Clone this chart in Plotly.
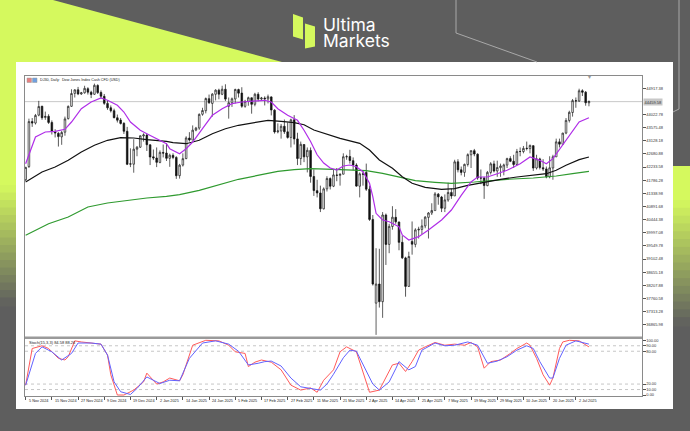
import plotly.graph_objects as go

W, H = 690, 431

# ---------------- data ----------------
tick_index = [0, 8, 16, 24, 32, 40, 48, 56, 64, 72, 80, 88, 96, 104, 112, 120, 128, 136, 144, 152, 160, 168]
tick_labels = ["5 Nov 2024", "15 Nov 2024", "27 Nov 2024", "9 Dec 2024", "19 Dec 2024", "2 Jan 2025",
               "14 Jan 2025", "24 Jan 2025", "5 Feb 2025", "17 Feb 2025", "27 Feb 2025", "11 Mar 2025",
               "21 Mar 2025", "2 Apr 2025", "14 Apr 2025", "25 Apr 2025", "7 May 2025", "19 May 2025",
               "29 May 2025", "10 Jun 2025", "20 Jun 2025", "2 Jul 2025"]

price_ticks = [36865.98, 37313.28, 37760.58, 38207.88, 38655.18, 39102.48, 39549.78, 39997.08,
               40444.38, 40891.68, 41338.98, 41786.28, 42233.58, 42680.88, 43128.18, 43575.48,
               44022.78, 44917.38]
current_price = 44459.58

opens = [41800, 42250, 43780, 43730, 44000, 44300, 43920, 43960, 43750, 43440, 43380, 43260, 43420, 43880,
         44300, 44740, 44860, 44720, 44760, 44900, 44780, 44710, 45010, 44770, 44640, 44400, 44250, 44150,
         43910, 43830, 43720, 43450, 42330, 42330, 42840, 42910, 43290, 43320, 42990, 42580, 42540, 42390,
         42730, 42710, 42530, 42630, 42560, 41940, 42300, 42520, 43220, 43150, 43490, 43560, 44030, 44150,
         44560, 44400, 44710, 44850, 44710, 44880, 44300, 44420, 44550, 44870, 44750, 44300, 44470, 44590,
         44370, 44710, 44550, 44580, 44550, 44620, 44170, 43430, 43460, 43620, 43430, 43240, 43840, 43190,
         42520, 43000, 42580, 42800, 41910, 41430, 41350, 40810, 41490, 41840, 41580, 41960, 41950, 41990,
         42580, 42590, 42450, 42300, 41580, 42000, 42050, 41480, 40450, 37600, 38250, 37650, 40600, 39600,
         40210, 40520, 40360, 39670, 39140, 38170, 39700, 39600, 40090, 40110, 40230, 40520, 40670, 40750,
         41310, 41210, 40830, 41110, 41370, 41250, 42410, 42140, 42050, 42320, 42650, 42790, 42670, 41860,
         41860, 41600, 42050, 42340, 42100, 42210, 42100, 42300, 42520, 42430, 42320, 42760, 42760, 42870,
         42860, 42960, 42200, 42510, 42210, 42170, 41900, 42200, 42580, 43090, 43010, 43390, 43820, 44090,
         44490, 44480, 44830, 44780, 44420]
highs = [42240, 43880, 43900, 44040, 44486, 44320, 44120, 44030, 43820, 43520, 43420, 43460, 43950, 44330,
         44880, 44880, 44960, 44790, 45000, 44950, 44830, 45073, 45050, 44840, 44720, 44500, 44330, 44220,
         44020, 43900, 43760, 43600, 42870, 43180, 42950, 43310, 43380, 43360, 43000, 42830, 42900, 42800,
         43000, 43050, 42690, 42700, 42600, 42340, 42700, 43280, 43420, 43650, 43600, 44060, 44250, 44600,
         44700, 44750, 44880, 44900, 45000, 45050, 44600, 44600, 44900, 44900, 44950, 44520, 44630, 44600,
         44760, 44780, 44620, 44640, 44700, 44640, 44200, 43720, 43700, 43850, 43750, 43880, 44000, 43400,
         43100, 43000, 42900, 42900, 42150, 41800, 41600, 41540, 41920, 41880, 42150, 42200, 42020, 42700,
         42650, 42820, 42560, 42360, 42050, 42100, 42350, 41600, 40600, 39470, 39450, 40700, 40650, 40300,
         40900, 40800, 40380, 39900, 39180, 39350, 40380, 40150, 40200, 40450, 40560, 40700, 41000, 41380,
         41350, 41250, 41300, 41700, 41500, 42480, 42500, 42250, 42350, 42700, 42800, 42850, 42700, 42150,
         41900, 42100, 42400, 42450, 42450, 42350, 42350, 42550, 42600, 42650, 42850, 42900, 42950, 43100,
         43000, 42970, 42650, 42550, 42500, 42250, 42600, 42650, 43200, 43200, 43400, 43900, 44150, 44550,
         44600, 44900, 44880, 44820, 44500]
lows = [41760, 42200, 43600, 43680, 43960, 43840, 43840, 43700, 43340, 43240, 42930, 42990, 43300, 43850,
        44280, 44600, 44680, 44690, 44730, 44700, 44580, 44690, 44720, 44560, 44350, 44180, 44090, 43890,
        43750, 43680, 43360, 42300, 42230, 42040, 42600, 42880, 43100, 42780, 42300, 42470, 42230, 42360,
        42560, 42440, 42240, 42500, 41830, 41840, 42250, 42500, 43100, 43150, 43450, 43500, 43980, 44060,
        44380, 43950, 44500, 44540, 44680, 44480, 43880, 44280, 44400, 44600, 44250, 44250, 44320, 44050,
        44300, 44470, 44500, 44330, 44400, 43990, 43370, 43380, 43200, 43360, 43200, 42900, 43000, 42300,
        42300, 42400, 42050, 41700, 41250, 41200, 40700, 40790, 41400, 41470, 41550, 41750, 41600, 41980,
        42480, 42350, 42120, 41560, 41200, 41600, 41420, 40400, 38200, 36520, 37450, 37100, 38900, 39300,
        40100, 40300, 39400, 39100, 37820, 38150, 39250, 39500, 39800, 39950, 40150, 39800, 40600, 40750,
        40950, 40700, 40700, 41050, 41150, 41250, 42050, 41950, 41900, 42250, 42200, 42600, 41800, 41650,
        41150, 41580, 41980, 42050, 41900, 41900, 41950, 42200, 42400, 42200, 42300, 42600, 42700, 42800,
        42700, 42100, 42150, 42150, 42100, 41850, 41850, 41800, 42580, 42900, 43000, 43350, 43750, 43950,
        44250, 44450, 44650, 44320, 44300]
closes = [42221, 43780, 43730, 43989, 44293, 43911, 43958, 43751, 43445, 43390, 43269, 43408, 43870, 44297,
          44736, 44860, 44722, 44760, 44911, 44782, 44705, 45014, 44766, 44643, 44401, 44248, 44149, 43914,
          43828, 43717, 43450, 42327, 42342, 42840, 42907, 43297, 43326, 42992, 42574, 42544, 42392, 42732,
          42707, 42528, 42635, 42560, 41938, 42297, 42518, 43222, 43153, 43488, 43560, 44025, 44157, 44565,
          44424, 44714, 44850, 44714, 44882, 44545, 44422, 44556, 44873, 44747, 44303, 44470, 44593, 44368,
          44711, 44546, 44580, 44556, 44627, 44176, 43428, 43461, 43621, 43433, 43240, 43841, 43191, 42521,
          43006, 42579, 42802, 41912, 41433, 41350, 40813, 41488, 41842, 41581, 41965, 41953, 41985, 42583,
          42588, 42455, 42300, 41584, 42002, 41990, 41480, 40450, 38250, 38250, 37650, 40600, 39600, 40213,
          40525, 40369, 39669, 39142, 38170, 39187, 39607, 40093, 40114, 40228, 40528, 40669, 40753, 41317,
          41219, 40829, 41114, 41368, 41249, 42410, 42140, 42051, 42323, 42655, 42792, 42677, 41860, 41859,
          41603, 42050, 42343, 42098, 42216, 42270, 42305, 42520, 42428, 42319, 42763, 42762, 42867, 42866,
          42968, 42198, 42515, 42215, 42172, 41900, 42207, 42582, 43089, 43012, 43387, 43819, 44095, 44495,
          44485, 44829, 44780, 44420, 44460]
bars = list(range(len(closes)))

ma_fast_idx = [0, 3, 6, 9, 12, 14, 17, 20, 23, 25, 28, 30, 32, 35, 37, 41, 43, 44, 47, 49, 51, 54, 57, 60, 63,
               66, 70, 73, 75, 77, 80, 83, 85, 87, 89, 91, 93, 95, 97, 99, 101, 103, 105, 106, 107, 109, 111,
               114, 115, 117, 120, 123, 127, 130, 133, 136, 138, 141, 144, 147, 151, 154, 157, 159, 161, 164,
               167, 169, 172]
ma_fast_val = [42347, 43255, 43426, 43449, 43518, 43766, 44219, 44447, 44583, 44505, 44335, 44106, 43766,
               43484, 43368, 43143, 43027, 42857, 42687, 42857, 43085, 43538, 43994, 44219, 44389, 44447,
               44471, 44505, 44447, 44219, 43994, 43824, 43484, 43100, 42650, 42370, 42200, 42132, 42268,
               42302, 42245, 42074, 41679, 41223, 40658, 40430, 40372, 40202, 39920, 39749, 39862, 40090,
               40430, 40770, 41271, 41724, 41894, 41894, 42006, 42122, 42347, 42575, 42462, 42347, 42517,
               42973, 43426, 43766, 43912]
ma_mid_idx = [0, 5, 9, 13, 17, 21, 25, 29, 33, 37, 43, 45, 49, 53, 57, 61, 65, 70, 74, 78, 82, 85, 88, 96,
              102, 105, 108, 112, 115, 118, 122, 127, 131, 135, 140, 145, 150, 155, 159, 162, 165, 169, 172]
ma_mid_val = [41724, 42064, 42234, 42462, 42745, 42973, 43143, 43232, 43221, 43164, 43109, 43061, 43027,
              43143, 43368, 43538, 43654, 43742, 43824, 43790, 43742, 43674, 43494, 43211, 43041, 42813,
              42473, 42190, 41904, 41679, 41543, 41475, 41496, 41611, 41724, 41816, 41894, 41952, 42006,
              42122, 42292, 42483, 42575]
ma_slow_idx = [0, 7, 13, 19, 25, 31, 37, 43, 47, 53, 59, 65, 72, 77, 82, 87, 94, 104, 109, 114, 119, 125,
               130, 137, 147, 155, 162, 167, 172]
ma_slow_val = [39909, 40304, 40532, 40873, 41009, 41101, 41179, 41237, 41291, 41441, 41632, 41816, 41972,
               42088, 42142, 42176, 42156, 42108, 42020, 41884, 41768, 41713, 41679, 41724, 41816, 41860,
               41928, 42006, 42088]

stoch_k_idx = [0, 2, 5, 7, 10, 12, 13, 15, 17, 20, 23, 25, 26, 28, 30, 33, 36, 37, 40, 42, 44, 47, 48, 51,
               55, 59, 62, 64, 67, 68, 70, 72, 75, 78, 81, 84, 87, 89, 91, 94, 96, 98, 101, 103, 105, 108,
               110, 112, 114, 116, 118, 120, 122, 125, 128, 131, 134, 136, 138, 140, 142, 145, 148, 150,
               153, 154, 156, 158, 160, 161, 163, 164, 166, 169, 172]
stoch_k_val = [18, 85, 90, 85, 67, 64, 70, 99, 97, 95, 93, 73, 37, 0, 0, 9, 24, 40, 20, 24, 31, 26, 37, 91,
               100, 99, 91, 79, 76, 52, 60, 64, 60, 46, 18, 9, 13, 5, 27, 46, 79, 88, 79, 42, 5, 9, 31, 55,
               58, 43, 61, 82, 88, 96, 91, 93, 91, 96, 88, 49, 61, 64, 76, 85, 95, 91, 67, 37, 18, 31, 85,
               97, 100, 99, 88]
stoch_d_idx = [0, 3, 5, 8, 11, 14, 16, 20, 23, 25, 27, 29, 32, 34, 37, 41, 44, 47, 50, 54, 58, 62, 65, 68,
               71, 73, 75, 78, 81, 84, 88, 90, 92, 94, 97, 99, 101, 103, 106, 108, 111, 113, 114, 117, 119,
               121, 125, 128, 131, 135, 138, 141, 144, 147, 150, 153, 155, 157, 160, 161, 163, 165, 168,
               172]
stoch_d_val = [18, 76, 88, 79, 64, 76, 95, 95, 93, 73, 24, 6, 1, 12, 33, 21, 27, 26, 67, 95, 99, 93, 80, 55,
               58, 61, 62, 53, 31, 15, 11, 9, 20, 38, 68, 82, 80, 57, 20, 9, 24, 48, 61, 46, 52, 82, 95, 90,
               91, 97, 91, 58, 62, 70, 82, 90, 85, 61, 31, 31, 67, 91, 99, 93]
stoch_levels = [10, 20, 80, 90]
stoch_ticks = [0, 10, 20, 80, 90, 100]

# ---------------- geometry helpers (pixels -> paper) ----------------
def px(x):
    return x / W


def py(y):
    return 1 - y / H


def path(points, close=True):
    s = "M" + " L".join(f"{px(x):.5f},{py(y):.5f}" for x, y in points)
    return s + (" Z" if close else "")


LIME = "#d5f95e"
GRAY = "#5e5e5e"

X0, X1 = 25, 642          # plot left/right pixel
MAIN_T, MAIN_B = 76, 337
ST_T, ST_B = 338, 396

fig = go.Figure()

fig.add_trace(go.Candlestick(
    x=bars, open=opens, high=highs, low=lows, close=closes,
    increasing=dict(fillcolor="white", line=dict(color="#1a1a1a", width=0.7)),
    decreasing=dict(fillcolor="#111111", line=dict(color="#111111", width=0.7)),
    whiskerwidth=0, xaxis="x", yaxis="y", showlegend=False, hoverinfo="skip"))

fig.add_trace(go.Scatter(x=ma_slow_idx, y=ma_slow_val, mode="lines", line=dict(color="#2f9a2f", width=1.2),
                         xaxis="x", yaxis="y", showlegend=False, hoverinfo="skip"))
fig.add_trace(go.Scatter(x=ma_mid_idx, y=ma_mid_val, mode="lines", line=dict(color="#111111", width=1.2),
                         xaxis="x", yaxis="y", showlegend=False, hoverinfo="skip"))
fig.add_trace(go.Scatter(x=ma_fast_idx, y=ma_fast_val, mode="lines", line=dict(color="#b02ee8", width=1.2),
                         xaxis="x", yaxis="y", showlegend=False, hoverinfo="skip"))

fig.add_trace(go.Scatter(x=stoch_k_idx, y=stoch_k_val, mode="lines", line=dict(color="#ff5a5a", width=1),
                         xaxis="x2", yaxis="y2", showlegend=False, hoverinfo="skip"))
fig.add_trace(go.Scatter(x=stoch_d_idx, y=stoch_d_val, mode="lines", line=dict(color="#6262ff", width=1),
                         xaxis="x2", yaxis="y2", showlegend=False, hoverinfo="skip"))

# ---------------- axes ----------------
tickfont = dict(family="Liberation Sans, Arial", size=4.0, color="#333333")
xr = [-0.2, 188.2]
main_lo = 41338.98 - (MAIN_B - 193.3) * 34.04
main_hi = 41338.98 + (193.3 - MAIN_T) * 34.04

fig.update_layout(
    width=W, height=H, margin=dict(l=0, r=0, t=0, b=0),
    paper_bgcolor=GRAY, plot_bgcolor="white",
    xaxis=dict(domain=[px(X0), px(X1)], range=xr, anchor="y", showticklabels=False, ticks="",
               showgrid=False, zeroline=False, showline=True, mirror=True, linecolor="#8a8a8a",
               linewidth=1, rangeslider=dict(visible=False)),
    yaxis=dict(domain=[py(MAIN_B), py(MAIN_T)], range=[main_lo, main_hi], anchor="x", side="right",
               tickvals=price_ticks, ticktext=[f"{v:.2f}" for v in price_ticks], ticks="outside",
               ticklen=2.5, tickcolor="#555", tickfont=tickfont, showgrid=False, zeroline=False,
               showline=True, mirror=True, linecolor="#8a8a8a", linewidth=1),
    xaxis2=dict(domain=[px(X0), px(X1)], range=xr, anchor="y2", tickvals=tick_index,
                showticklabels=False, ticks="outside", ticklen=3, tickcolor="#555", showgrid=False,
                zeroline=False, showline=True, mirror=True, linecolor="#8a8a8a", linewidth=1),
    yaxis2=dict(domain=[py(ST_B), py(ST_T)], range=[-1.8, 104.2], anchor="x2", side="right",
                tickvals=stoch_ticks, ticktext=[f"{v:.2f}" for v in stoch_ticks], ticks="outside",
                ticklen=2.5, tickcolor="#555", tickfont=tickfont, showgrid=False, zeroline=False,
                showline=True, mirror=True, linecolor="#8a8a8a", linewidth=1),
)

shapes = []
# white panel
shapes.append(dict(type="rect", xref="paper", yref="paper", x0=px(16), x1=px(673), y0=py(409), y1=py(62),
                   fillcolor="white", line=dict(width=0), layer="below"))
# lime top-left polygon + left strip
shapes.append(dict(type="path", xref="paper", yref="paper",
                   path=path([(0, 0), (53, 0), (282, 62), (16, 62), (16, 186), (0, 186)]),
                   fillcolor=LIME, line=dict(width=0), layer="below"))


def mix(c1, c2, t):
    a = [int(c1[i:i + 2], 16) for i in (1, 3, 5)]
    b = [int(c2[i:i + 2], 16) for i in (1, 3, 5)]
    return "#" + "".join(f"{round(a[k] + (b[k] - a[k]) * t):02x}" for k in range(3))


n = 16
for k in range(n):
    y0 = 185 + (305 - 185) * k / n
    y1 = 185 + (305 - 185) * (k + 1) / n + 1.5
    shapes.append(dict(type="rect", xref="paper", yref="paper", x0=0, x1=px(16), y0=py(y1), y1=py(y0),
                       fillcolor=mix(LIME, GRAY, (k + 0.5) / n), line=dict(width=0), layer="below"))
# right strip
shapes.append(dict(type="rect", xref="paper", yref="paper", x0=px(673), x1=1, y0=py(201), y1=py(166),
                   fillcolor=LIME, line=dict(width=0), layer="below"))
for k in range(n):
    y0 = 200 + (325 - 200) * k / n
    y1 = 200 + (325 - 200) * (k + 1) / n + 1.5
    shapes.append(dict(type="rect", xref="paper", yref="paper", x0=px(673), x1=1, y0=py(y1), y1=py(y0),
                       fillcolor=mix(LIME, GRAY, (k + 0.5) / n), line=dict(width=0), layer="below"))
# thin decorative lines
for pts in ([(456, 0), (456, 33), (537, 62)], [(679, 0), (679, 109), (673, 112)]):
    shapes.append(dict(type="path", xref="paper", yref="paper", path=path(pts, close=False),
                       line=dict(color="#a8a8a8", width=1), layer="below"))
# logo pieces
shapes.append(dict(type="path", xref="paper", yref="paper",
                   path=path([(293, 14), (303, 17.5), (303, 39.5), (293, 36.5)]),
                   fillcolor=LIME, line=dict(width=0)))
shapes.append(dict(type="path", xref="paper", yref="paper",
                   path=path([(305, 23.5), (315, 26.5), (315, 46.5), (305, 48.5)]),
                   fillcolor=LIME, line=dict(width=0)))
# separator between main and stoch
shapes.append(dict(type="rect", xref="paper", yref="paper", x0=px(X0), x1=px(X1), y0=py(339), y1=py(336.5),
                   fillcolor="#9a9a9a", line=dict(width=0)))
# current price line
shapes.append(dict(type="line", xref="x", yref="y", x0=xr[0], x1=xr[1], y0=current_price, y1=current_price,
                   line=dict(color="#c8c8c8", width=1), layer="below"))
# stochastic level lines
for lv in stoch_levels:
    shapes.append(dict(type="line", xref="x2", yref="y2", x0=xr[0], x1=xr[1], y0=lv, y1=lv,
                       line=dict(color="#b8b8b8", width=0.8, dash="dot"), layer="below"))
# legend icons of chart title
shapes.append(dict(type="rect", xref="paper", yref="paper", x0=px(27), x1=px(31.5), y0=py(82.5), y1=py(78),
                   fillcolor="#e88080", line=dict(color="#999", width=0.5)))
shapes.append(dict(type="rect", xref="paper", yref="paper", x0=px(32.5), x1=px(37), y0=py(82.5), y1=py(78),
                   fillcolor="#6fa0e0", line=dict(color="#999", width=0.5)))
fig.update_layout(shapes=shapes)

ann = []
small = dict(family="Liberation Sans, Arial", size=3.8, color="#222222")
for i, t in zip(tick_index, tick_labels):
    ann.append(dict(x=i + 0.3, y=py(400.5), xref="x2", yref="paper", text=t, showarrow=False,
                    xanchor="left", yanchor="middle", font=small))
ann.append(dict(x=px(38), y=py(80.3), xref="paper", yref="paper",
                text="DJ30, Daily:  Dow Jones Index Cash CFD (USD)", showarrow=False,
                xanchor="left", yanchor="middle", font=dict(small, size=3.7)))
ann.append(dict(x=px(26.5), y=py(342.5), xref="paper", yref="paper", text="Stoch(15,3,3) 84.58 88.26",
                showarrow=False, xanchor="left", yanchor="middle", font=dict(small, size=4.0)))
ann.append(dict(x=px(643), y=current_price, xref="paper", yref="y", text=f"{current_price:.2f}",
                showarrow=False, xanchor="left", yanchor="middle", bgcolor="#c8c8c8",
                font=dict(family="Liberation Sans, Arial", size=4.0, color="#333"), borderpad=0.5))
ann.append(dict(x=px(589), y=py(76.5), xref="paper", yref="paper", text="▾", showarrow=False,
                xanchor="center", yanchor="middle", font=dict(size=6, color="#9a9a9a")))
# brand logo: one text element, two lines (base size sets the tight line spacing)
ann.append(dict(x=px(322), y=py(32.5), xref="paper", yref="paper",
                text='<span style="font-size:17.5px">Ultima</span><br>'
                     '<span style="font-size:17.5px">Markets</span>',
                showarrow=False, xanchor="left", yanchor="middle", align="left", borderpad=0,
                font=dict(family="Inter, Roboto, Arial", size=12.3, color="white")))
fig.update_layout(annotations=ann)

fig.write_html("out.html", config={"displayModeBar": False},
               post_script="document.body.style.margin='0';document.body.style.overflow='hidden';")
